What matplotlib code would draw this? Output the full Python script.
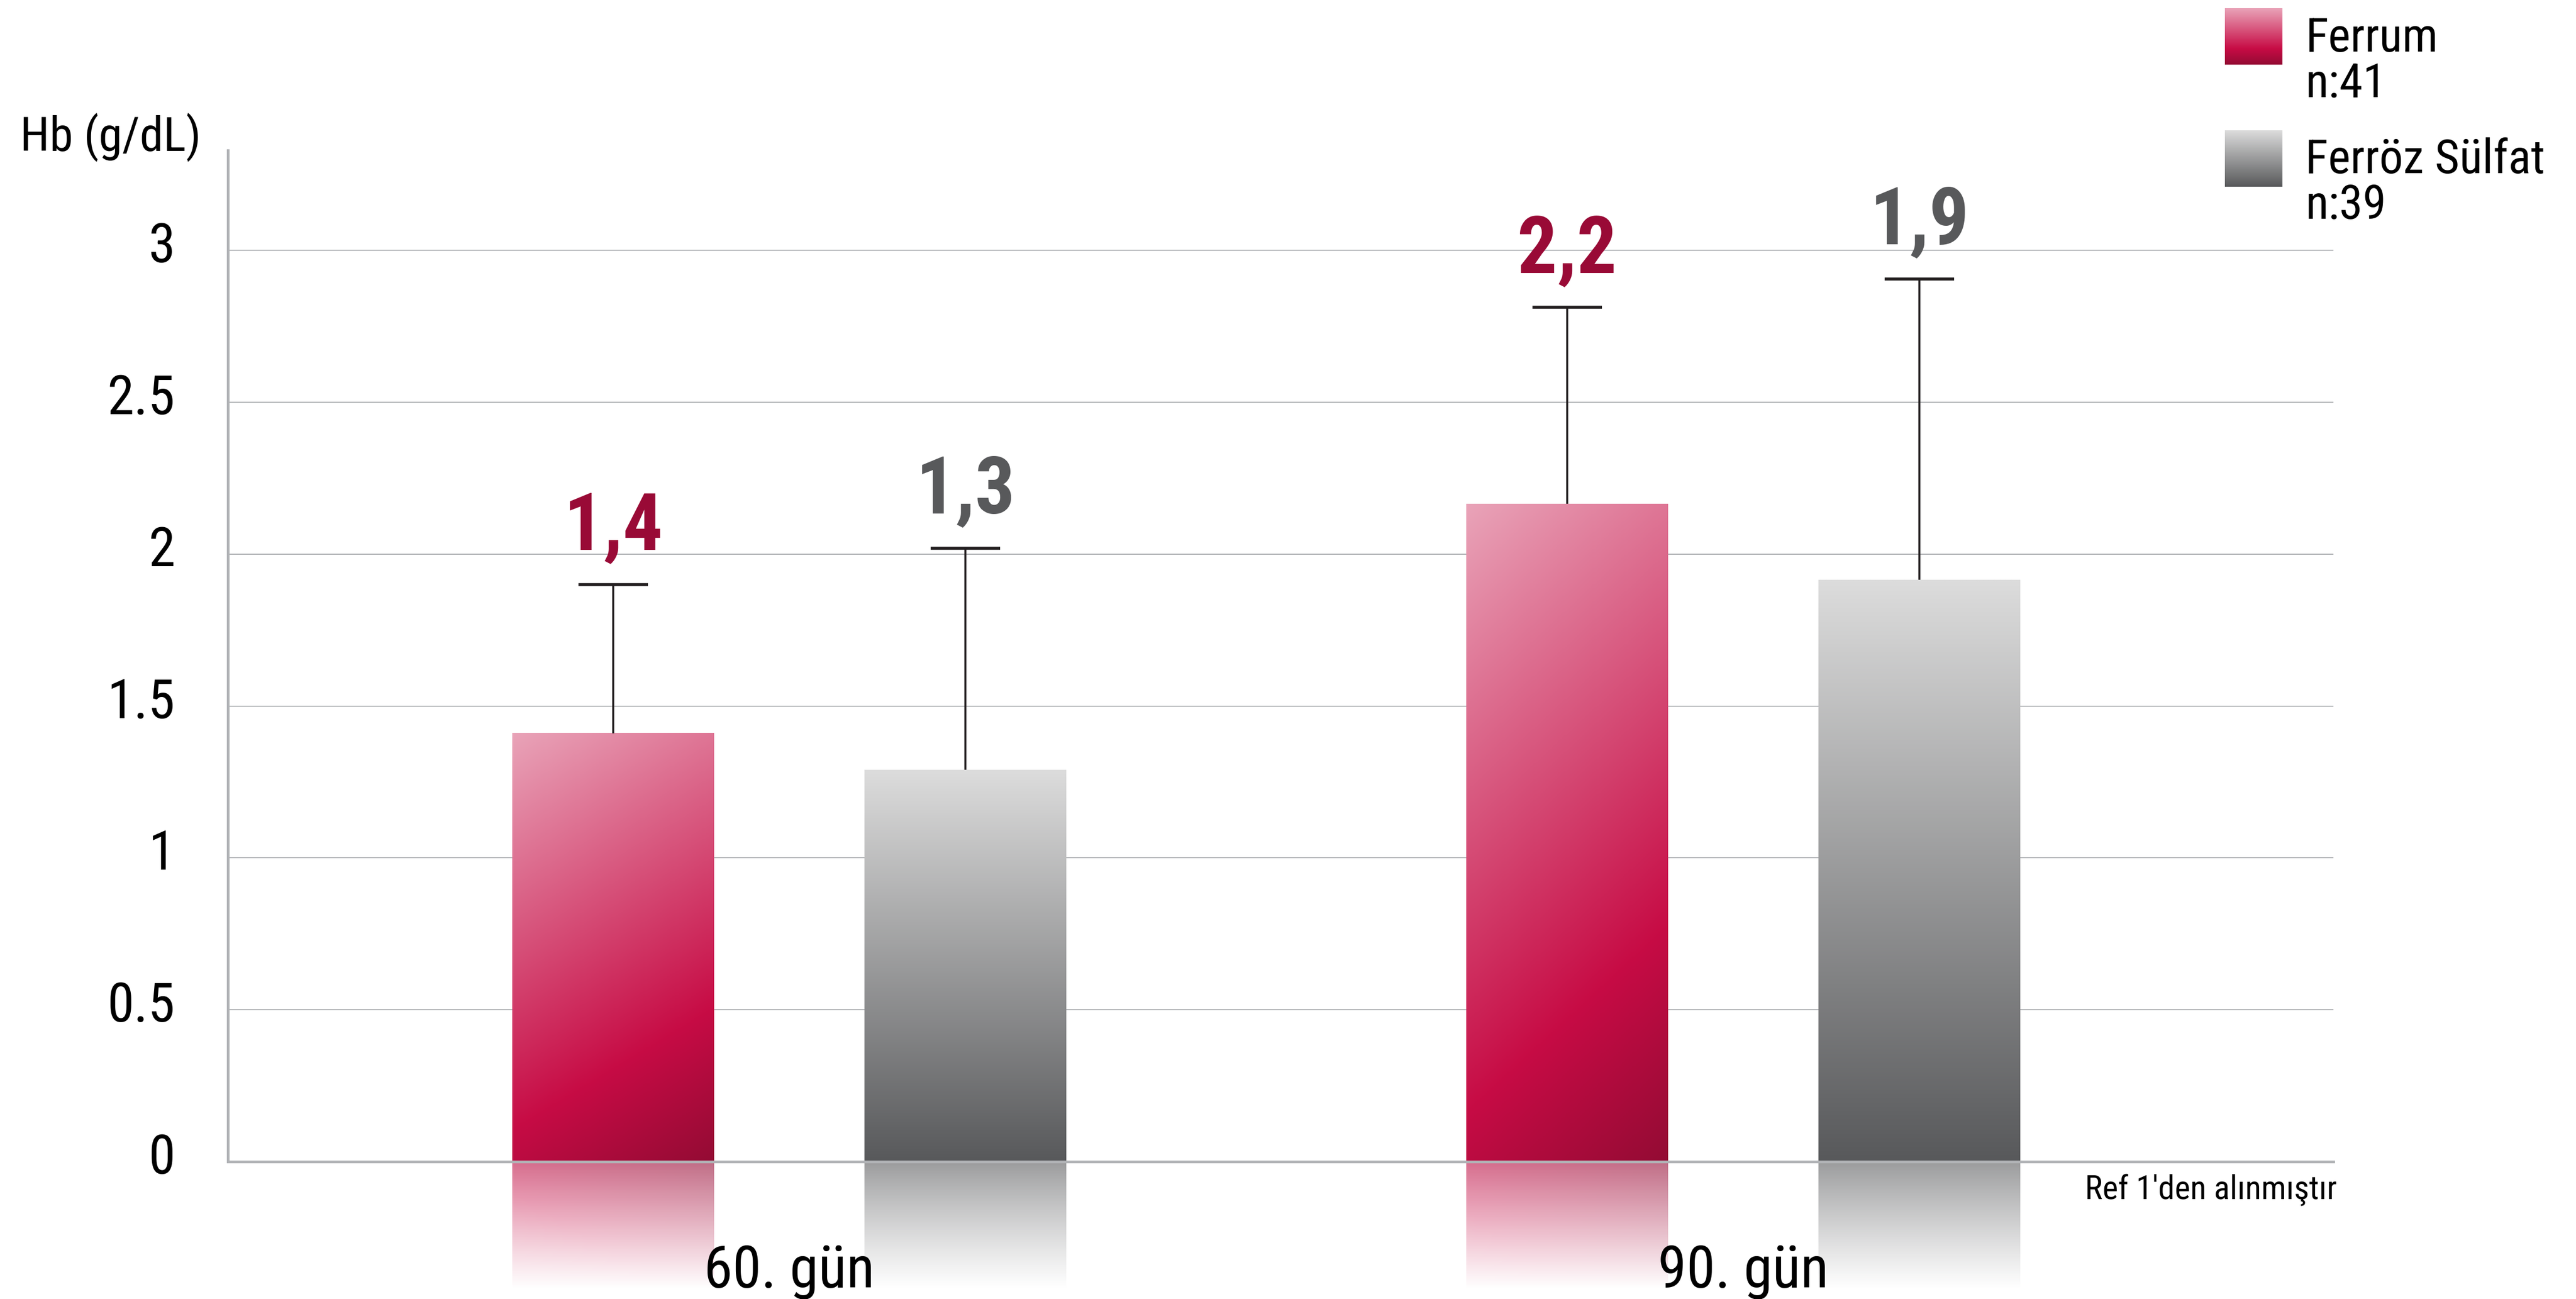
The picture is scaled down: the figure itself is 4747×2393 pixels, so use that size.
import numpy as np
import matplotlib
matplotlib.use("Agg")
import matplotlib.pyplot as plt
from matplotlib import font_manager
from matplotlib.colors import LinearSegmentedColormap
from matplotlib.transforms import ScaledTranslation

# ---- data -------------------------------------------------------------
groups = ["60. gün", "90. gün"]
series = ["Ferrum", "Ferröz Sülfat"]
series_n = ["n:41", "n:39"]
ferrum_mean = [1.41, 2.165]
ferrum_sd = [0.49, 0.647]
sulfat_mean = [1.29, 1.915]
sulfat_sd = [0.73, 0.99]
y_ticks = [0, 0.5, 1, 1.5, 2, 2.5, 3]
y_tick_labels = ["0", "0.5", "1", "1.5", "2", "2.5", "3"]
y_label = "Hb (g/dL)"
source_note = "Ref 1'den alınmıştır"


def pick_font(candidates):
    for name in candidates:
        try:
            font_manager.findfont(font_manager.FontProperties(family=name),
                                  fallback_to_default=False)
            return name
        except ValueError:
            continue
    return "DejaVu Sans"


FONT = pick_font(["Liberation Sans Narrow", "Roboto Condensed", "Liberation Sans"])
plt.rcParams["font.family"] = [FONT, "DejaVu Sans"]

# ---- styles -----------------------------------------------------------
RED_TEXT = "#990A36"
GREY_TEXT = "#58595B"
AXIS_GREY = "#B1B3B6"
GRID_GREY = "#A7A9AC"
ERR_COLOR = "#231F20"

ferrum_cmap = LinearSegmentedColormap.from_list(
    "ferrum", [(0.0, "#E9A3B8"), (0.72, "#C70C45"), (1.0, "#940B34")])
sulfat_cmap = LinearSegmentedColormap.from_list(
    "sulfat", [(0.0, "#DCDCDC"), (1.0, "#58595B")])

W, H, DPI = 4747, 2393, 100
fig = plt.figure(figsize=(W / DPI, H / DPI), dpi=DPI)
fig.patch.set_facecolor("white")
ax = fig.add_axes([420 / W, 1 - 2140 / H, 3880 / W, 1863 / H])

x = np.arange(len(groups))
width = 0.2116
offset = 0.1846
REFLECT = 0.42   # depth of the mirrored fade below the baseline (y units)


def field(nx, ny, tilt):
    u = np.linspace(0, 1, nx)[None, :]
    v = np.linspace(0, 1, ny)[:, None]      # 0 at top, 1 at bottom
    return np.clip((1 - tilt) * v + tilt * u, 0, 1)


def paint_bar(rect, cmap, tilt):
    x0, w, h = rect.get_x(), rect.get_width(), rect.get_height()
    ny, nx = 400, 120
    img = cmap(field(nx, ny, tilt))
    ax.imshow(img, extent=(x0, x0 + w, 0, h), origin="upper", aspect="auto",
              interpolation="bilinear", zorder=1)
    # mirrored, fading copy under the baseline
    nr = 200
    d = np.linspace(0, REFLECT, nr)[:, None]
    vv = np.clip(1 - d / h, 0, 1)
    u = np.linspace(0, 1, nx)[None, :]
    t = np.clip((1 - tilt) * vv + tilt * u, 0, 1)
    refl = cmap(t)
    refl[..., 3] = 0.6 * (1 - d / REFLECT) * np.ones_like(u)
    ax.imshow(refl, extent=(x0, x0 + w, -REFLECT, 0), origin="upper",
              aspect="auto", interpolation="bilinear", zorder=1, clip_on=False)


ferrum_bars = ax.bar(x - offset, ferrum_mean, width, color="none", edgecolor="none")
sulfat_bars = ax.bar(x + offset, sulfat_mean, width, color="none", edgecolor="none")

for r in ferrum_bars:
    paint_bar(r, ferrum_cmap, 0.22)
for r in sulfat_bars:
    paint_bar(r, sulfat_cmap, 0.0)

for bars, means, sds, col in [(ferrum_bars, ferrum_mean, ferrum_sd, RED_TEXT),
                              (sulfat_bars, sulfat_mean, sulfat_sd, GREY_TEXT)]:
    cx = [b.get_x() + b.get_width() / 2 for b in bars]
    eb = ax.errorbar(cx, means, yerr=[np.zeros(len(sds)), sds], fmt="none",
                     ecolor=ERR_COLOR, elinewidth=2.6, capsize=46, capthick=4,
                     zorder=3)
    # only the upper whisker carries a cap
    eb.lines[1][0].set_visible(False)
    for xc, m, s in zip(cx, means, sds):
        ax.annotate(f"{m:.1f}".replace(".", ","), xy=(xc, m + s), xytext=(0, 46),
                    textcoords="offset points", ha="center", va="baseline",
                    fontsize=105, fontweight="bold", color=col, zorder=4)

ax.set_xlim(-0.5885, 1.6186)
ax.set_ylim(0, 3.329)

for yt in y_ticks[1:]:
    ax.axhline(yt, color=GRID_GREY, linewidth=1.3, zorder=0.5)

for side in ["top", "right"]:
    ax.spines[side].set_visible(False)
for side in ["left", "bottom"]:
    ax.spines[side].set_color(AXIS_GREY)
    ax.spines[side].set_linewidth(3.6)

ax.set_yticks(y_ticks, y_tick_labels)
ax.tick_params(axis="y", length=0, pad=70, labelsize=72, labelcolor="black")
shift = ScaledTranslation(0, -22 / DPI, fig.dpi_scale_trans)
for lbl in ax.get_yticklabels():
    lbl.set_verticalalignment("baseline")
    lbl.set_transform(lbl.get_transform() + shift)

ax.set_xticks(x, groups)
ax.tick_params(axis="x", length=0, pad=167, labelsize=77, labelcolor="black")
for lbl in ax.get_xticklabels():
    lbl.set_verticalalignment("baseline")

# ---- axis title and note ---------------------------------------------
fig.text(37 / W, 1 - 278 / H, y_label, fontsize=63, va="baseline")
fig.text(4306 / W, 1 - 2210 / H, source_note, fontsize=44, ha="right", va="baseline")

# ---- legend ------------------------------------------------------------
swatch_tops = [15, 240]
text_baselines = [(95, 179), (319, 403)]
for name, n, cmap, top, (b1, b2) in zip(series, series_n, [ferrum_cmap, sulfat_cmap],
                                        swatch_tops, text_baselines):
    sax = fig.add_axes([4100 / W, 1 - (top + 104) / H, 106 / W, 104 / H])
    sax.imshow(cmap(field(20, 200, 0.0)), aspect="auto", interpolation="bilinear")
    sax.set_axis_off()
    fig.text(4248 / W, 1 - b1 / H, name, fontsize=63, va="baseline")
    fig.text(4248 / W, 1 - b2 / H, n, fontsize=63, va="baseline")

fig.savefig("out.png", dpi=DPI)
